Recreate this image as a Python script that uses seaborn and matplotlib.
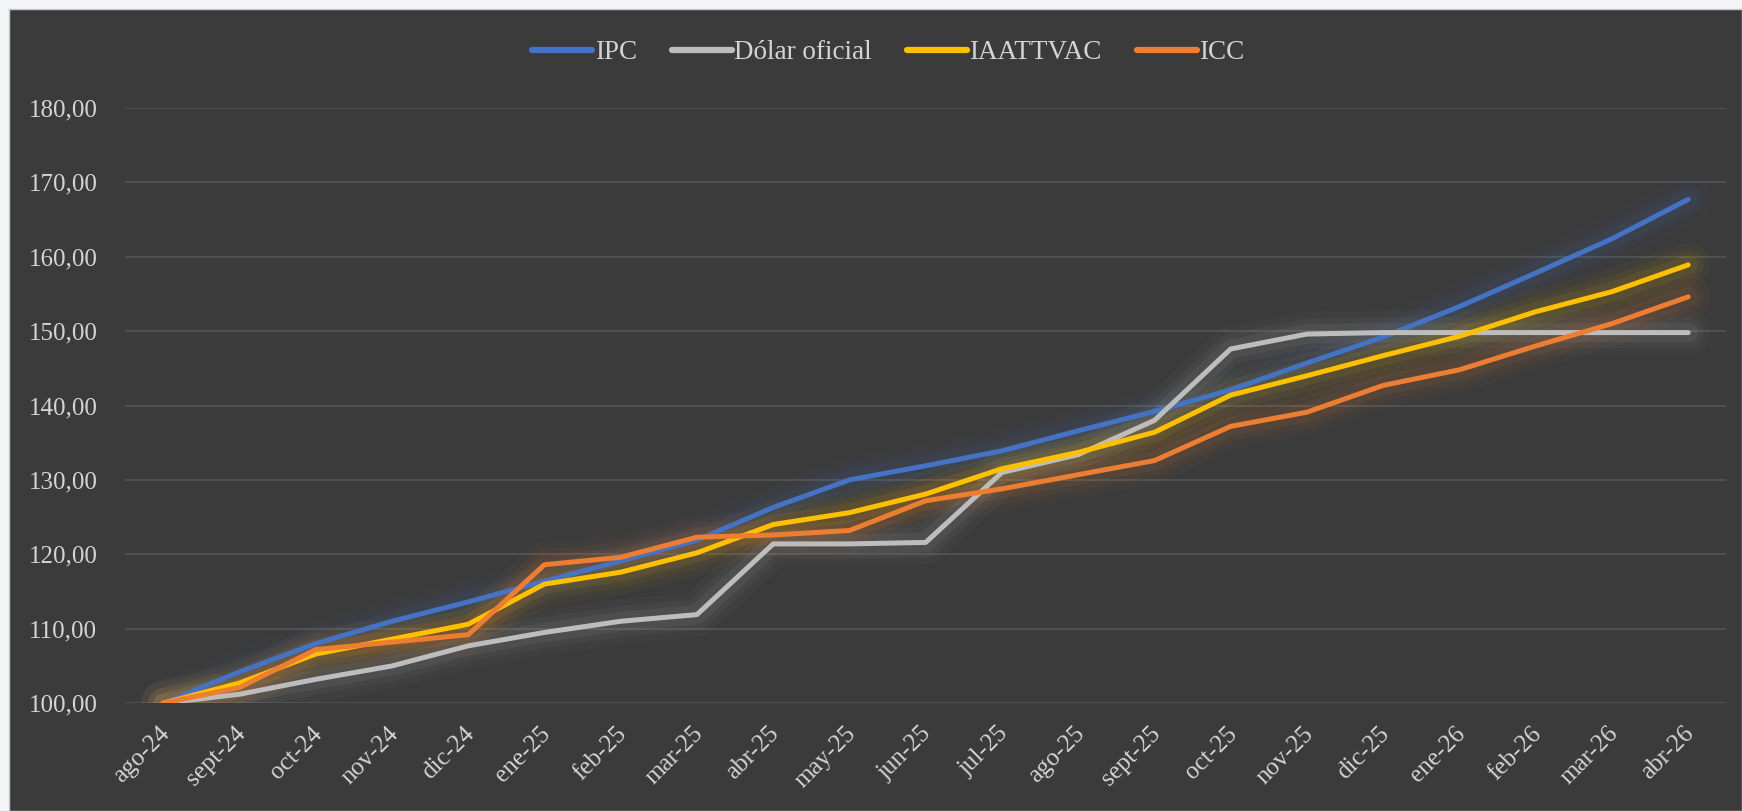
import pandas as pd
import matplotlib
matplotlib.use("Agg")
import matplotlib.pyplot as plt
from matplotlib.ticker import FuncFormatter, MultipleLocator
from matplotlib.transforms import ScaledTranslation
import seaborn as sns

# --- datos ---
meses = ["ago-24", "sept-24", "oct-24", "nov-24", "dic-24", "ene-25", "feb-25",
         "mar-25", "abr-25", "may-25", "jun-25", "jul-25", "ago-25", "sept-25",
         "oct-25", "nov-25", "dic-25", "ene-26", "feb-26", "mar-26", "abr-26"]

ipc = [100.0, 104.2, 108.0, 111.0, 113.6, 116.4, 119.1, 121.9, 126.3, 130.0,
       131.9, 133.9, 136.6, 139.2, 142.1, 145.7, 149.2, 153.3, 157.8, 162.4, 167.7]
dolar = [100.0, 101.2, 103.2, 105.0, 107.7, 109.5, 111.0, 111.9, 121.4, 121.4,
         121.6, 131.0, 133.4, 138.0, 147.6, 149.6, 149.8, 149.8, 149.8, 149.8, 149.8]
iaattvac = [100.0, 102.7, 106.6, 108.6, 110.6, 116.0, 117.6, 120.2, 124.0, 125.6,
            128.1, 131.5, 133.7, 136.4, 141.4, 144.0, 146.7, 149.3, 152.6, 155.3, 158.9]
icc = [100.0, 102.1, 107.2, 108.2, 109.2, 118.6, 119.6, 122.3, 122.6, 123.2,
       127.2, 128.8, 130.7, 132.6, 137.2, 139.1, 142.7, 144.8, 148.0, 151.0, 154.6]

series = {"IPC": ipc, "Dólar oficial": dolar, "IAATTVAC": iaattvac, "ICC": icc}
colores = {"IPC": "#4472C4", "Dólar oficial": "#BDBDBD",
           "IAATTVAC": "#FFC000", "ICC": "#ED7D31"}

FONDO = "#3b3b3b"
TEXTO = "#d4d4d4"


def armar_df() -> pd.DataFrame:
    filas = []
    for nombre, valores in series.items():
        for i, v in enumerate(valores):
            filas.append({"mes": i, "serie": nombre, "valor": v})
    return pd.DataFrame(filas)


def main() -> None:
    df = armar_df()

    sns.set_theme(style="dark")
    plt.rcParams["font.family"] = ["Liberation Serif", "DejaVu Serif"]

    fig = plt.figure(figsize=(17.42, 8.11), dpi=100)
    fig.patch.set_facecolor("#f3f5f8")

    # panel oscuro del gráfico (ejes de fondo)
    fondo = fig.add_axes([9 / 1742, 0, 1 - 9 / 1742, 1 - 9 / 811], zorder=0)
    fondo.set_facecolor(FONDO)
    fondo.set_xticks([])
    fondo.set_yticks([])
    for s in fondo.spines.values():
        s.set_color("#c8c8c8")
        s.set_linewidth(1.0)

    ax = fig.add_axes([0.0718, 0.133, 0.9192, 0.734], zorder=1)
    ax.patch.set_alpha(0)

    # brillo suave alrededor de las líneas
    for nombre, valores in series.items():
        for ancho, alfa in [(32, 0.035), (22, 0.05), (14, 0.08)]:
            ax.plot(range(len(valores)), valores, color=colores[nombre],
                    lw=ancho, alpha=alfa, solid_capstyle="round",
                    solid_joinstyle="round", zorder=2)

    sns.lineplot(data=df, x="mes", y="valor", hue="serie",
                 hue_order=list(series.keys()), palette=colores,
                 linewidth=3.6, ax=ax, legend=False, zorder=3)
    for ln in ax.lines:
        ln.set_solid_capstyle("round")
        ln.set_solid_joinstyle("round")

    ax.set_xlim(-0.5, len(meses) - 0.5)
    ax.set_ylim(100, 180)
    ax.yaxis.set_major_locator(MultipleLocator(10))
    ax.yaxis.set_major_formatter(FuncFormatter(lambda v, _: f"{v:.2f}".replace(".", ",")))
    ax.set_xticks(range(len(meses)))
    ax.set_xticklabels(meses, rotation=45, ha="right", rotation_mode="anchor")
    ax.set_xlabel("")
    ax.set_ylabel("")
    ax.tick_params(axis="both", colors=TEXTO, labelsize=18, length=0)
    ax.tick_params(axis="x", pad=14)
    ax.tick_params(axis="y", pad=20)
    desplaz = ScaledTranslation(-0.05, 0, fig.dpi_scale_trans)
    for lbl in ax.get_xticklabels():
        lbl.set_transform(lbl.get_transform() + desplaz)
    ax.grid(axis="y", color="#555555", linewidth=1.2)
    ax.grid(axis="x", visible=False)
    for s in ax.spines.values():
        s.set_visible(False)

    manijas = [plt.Line2D([], [], color=colores[n], lw=4.5, solid_capstyle="round")
               for n in series]
    leg = fig.legend(manijas, list(series.keys()), loc="center",
                     bbox_to_anchor=(0.51, 0.935), ncol=4, frameon=False,
                     fontsize=19.5, handlelength=2.2, handletextpad=0.1,
                     columnspacing=1.3)
    for t in leg.get_texts():
        t.set_color(TEXTO)

    fig.savefig("out.png", dpi=100, facecolor=fig.get_facecolor())


if __name__ == "__main__":
    main()
